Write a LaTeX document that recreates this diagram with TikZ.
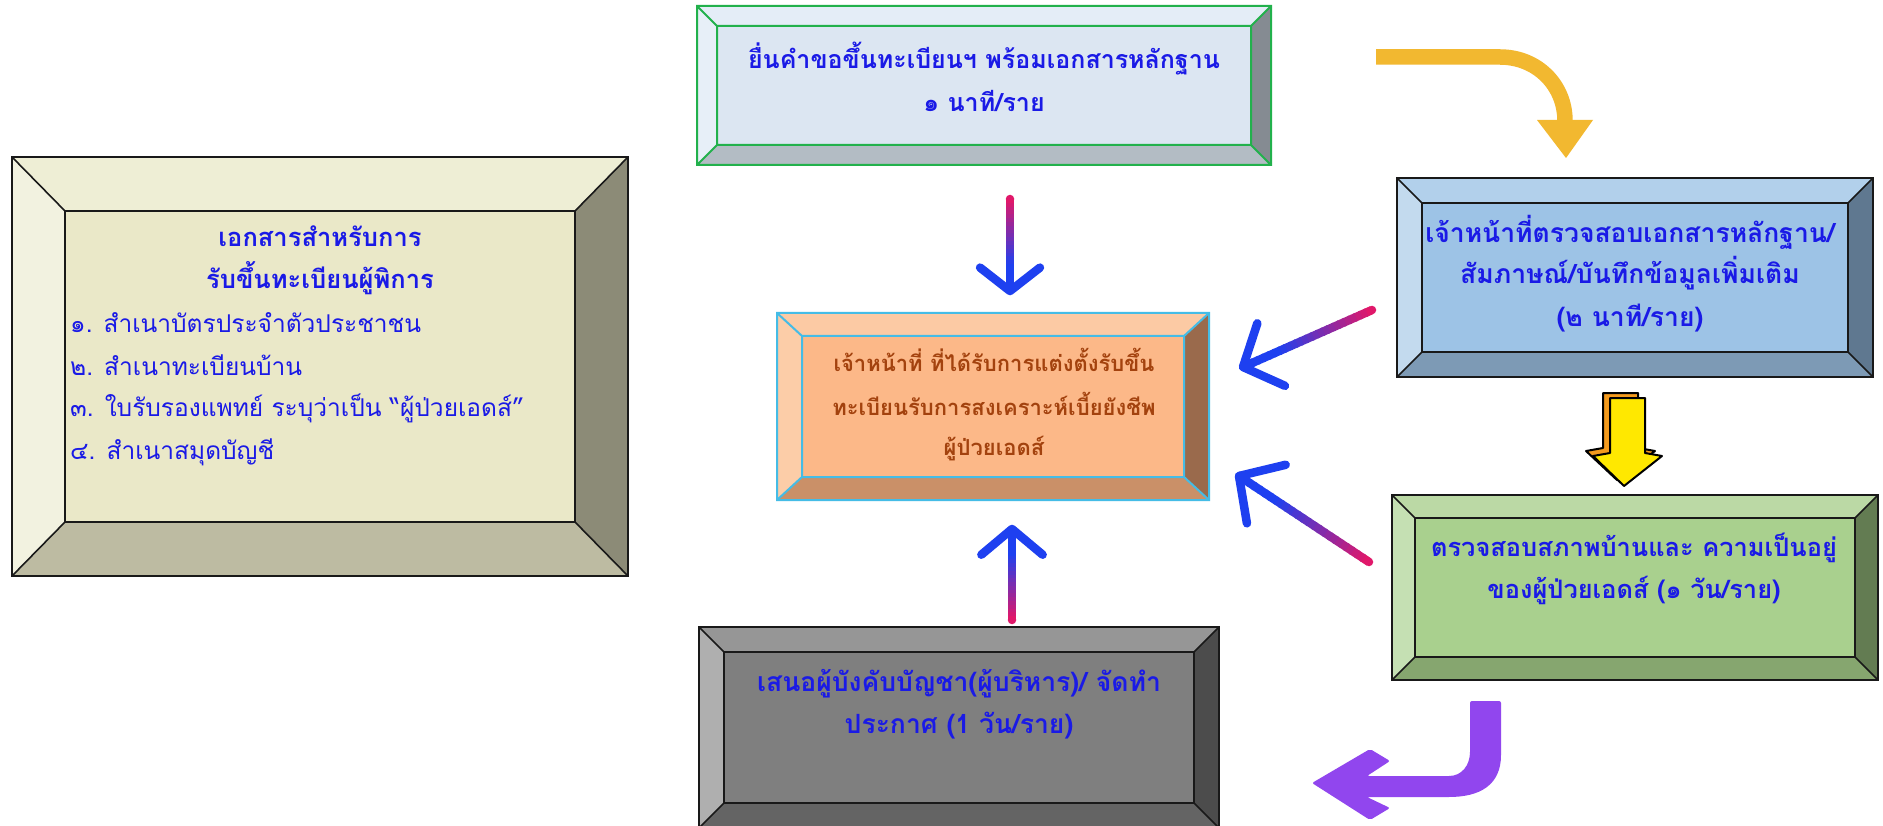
\documentclass[tikz,border=0pt]{standalone}
\usepackage{fontspec}
\newfontfamily\thai[Script=Thai]{Loma}
\usetikzlibrary{calc,fit}
% left box
\definecolor{lbt}{HTML}{EEEED5}\definecolor{lbl}{HTML}{F2F2E0}\definecolor{lbr}{HTML}{8C8B77}\definecolor{lbb}{HTML}{BDBBA2}\definecolor{lbi}{HTML}{EAE8C8}
% top box
\definecolor{tbt}{HTML}{E4EDF7}\definecolor{tbl}{HTML}{E7EFF8}\definecolor{tbr}{HTML}{858B92}\definecolor{tbb}{HTML}{B3BCC4}\definecolor{tbi}{HTML}{DCE6F2}
% centre box
\definecolor{cbt}{HTML}{FCCAA4}\definecolor{cbl}{HTML}{FCCDA8}\definecolor{cbr}{HTML}{9A6A4C}\definecolor{cbb}{HTML}{CA9068}\definecolor{cbi}{HTML}{FCB888}
% right top box
\definecolor{rbt}{HTML}{B2D0EB}\definecolor{rbl}{HTML}{C3DAEE}\definecolor{rbr}{HTML}{5F7890}\definecolor{rbb}{HTML}{7D9AB5}\definecolor{rbi}{HTML}{9DC3E6}
% green box
\definecolor{gbt}{HTML}{BBD9A5}\definecolor{gbl}{HTML}{C5E0B3}\definecolor{gbr}{HTML}{637C52}\definecolor{gbb}{HTML}{86A66F}\definecolor{gbi}{HTML}{A9D08E}
% grey box
\definecolor{kbt}{HTML}{969696}\definecolor{kbl}{HTML}{AFAFAF}\definecolor{kbr}{HTML}{4C4C4C}\definecolor{kbb}{HTML}{646464}\definecolor{kbi}{HTML}{7F7F7F}
\definecolor{txtblue}{HTML}{1A1AE6}
\definecolor{txtbrown}{HTML}{A3420E}
\definecolor{arrred}{HTML}{E0186A}
\definecolor{arrblue}{HTML}{1E40F0}
\definecolor{gold}{HTML}{F2B830}
\definecolor{violet2}{HTML}{9146EE}
\definecolor{cartyellow}{HTML}{FFE800}
\definecolor{cartorange}{HTML}{F39A1E}
\definecolor{bdgreenc}{HTML}{22B14C}
\definecolor{bdcyanc}{HTML}{45BCE6}

\tikzset{
  bdblack/.style={draw=black!90,line width=1.6pt},
  bdgreen/.style={draw=bdgreenc,line width=2pt},
  bdcyan/.style={draw=bdcyanc,line width=2pt},
  line/.style={inner sep=0pt,anchor=base},
  bluetxt/.style={line,text=txtblue,font=\thai\bfseries\fontsize{26}{26}\selectfont},
  browntxt/.style={line,text=txtbrown,font=\thai\bfseries\fontsize{22}{22}\selectfont},
  itemtxt/.style={inner sep=0pt,anchor=base west,text=txtblue,font=\thai\fontsize{24.5}{24.5}\selectfont},
  titletxt/.style={line,text=txtblue,font=\thai\bfseries\fontsize{25.5}{25.5}\selectfont},
}

\newcommand\bevelbox[9]{%
  \coordinate (#1-A) at (#2,#3);
  \coordinate (#1-B) at (#4,#3);
  \coordinate (#1-C) at (#4,#5);
  \coordinate (#1-D) at (#2,#5);
  \coordinate (#1-a) at (#2+#6,#3+#7);
  \coordinate (#1-b) at (#4-#6,#3+#7);
  \coordinate (#1-c) at (#4-#6,#5-#7);
  \coordinate (#1-d) at (#2+#6,#5-#7);
  \fill[#8t] (#1-A)--(#1-B)--(#1-b)--(#1-a)--cycle;
  \fill[#8r] (#1-B)--(#1-C)--(#1-c)--(#1-b)--cycle;
  \fill[#8b] (#1-C)--(#1-D)--(#1-d)--(#1-c)--cycle;
  \fill[#8l] (#1-D)--(#1-A)--(#1-a)--(#1-d)--cycle;
  \fill[#8i] (#1-a) rectangle (#1-c);
  \draw[#9] (#1-A) rectangle (#1-C) (#1-a) rectangle (#1-c)
     (#1-A)--(#1-a) (#1-B)--(#1-b) (#1-C)--(#1-c) (#1-D)--(#1-d);
  \node[fit=(#1-A)(#1-C),inner sep=0pt] (#1) {};
}

\newcommand\gradarrow[4]{%
  \fill[arrred] (#1) circle (4.25pt);
  \foreach \i in {0,...,23}{%
    \pgfmathsetmacro\ta{\i/24}%
    \pgfmathsetmacro\tb{(\i+1.3)/24}%
    \pgfmathtruncatemacro\pc{max(0,100-\i*100/17)}%
    \draw[line width=8.5pt,color=arrred!\pc!arrblue,line cap=butt]
      ($(#1)!\ta!(#2)$) -- ($(#1)!\tb!(#2)$);
  }
  \draw[line width=8.5pt,arrblue,line cap=round,line join=round]
    ($(#2)!#3!#4:(#1)$) -- (#2) -- ($(#2)!#3!-#4:(#1)$);
}

\begin{document}
\begin{tikzpicture}[x=1pt,y=-1pt]
\useasboundingbox (0,0) rectangle (1883,826);
\fill[white] (0,0) rectangle (1883,826);

% ---------- boxes ----------
\bevelbox{docs}{12}{157}{628}{576}{53}{54}{lb}{bdblack}
\bevelbox{submit}{697}{6}{1271}{165}{20}{20}{tb}{bdgreen}
\bevelbox{officer}{777}{313}{1209}{500}{25}{23}{cb}{bdcyan}
\bevelbox{check}{1397}{178}{1873}{377}{25}{25}{rb}{bdblack}
\bevelbox{visit}{1392}{495}{1878}{680}{23}{23}{gb}{bdblack}
\bevelbox{propose}{699}{627}{1219}{828}{25}{25}{kb}{bdblack}

% ---------- texts ----------
\node[titletxt] (l1a) at (320,247) {เอกสารสำหรับการ};
\node[titletxt] (l1b) at (320,289) {รับขึ้นทะเบียนผู้พิการ};
\node[itemtxt] (l2) at (70,333) {๑. สำเนาบัตรประจำตัวประชาชน};
\node[itemtxt] (l3) at (70,375) {๒. สำเนาทะเบียนบ้าน};
\node[itemtxt] (l4) at (70,417) {๓. ใบรับรองแพทย์ ระบุว่าเป็น “ผู้ป่วยเอดส์”};
\node[itemtxt] (l5) at (70,459) {๔. สำเนาสมุดบัญชี};

\node[bluetxt,font=\thai\bfseries\fontsize{25}{25}\selectfont] (s1) at (984,69) {ยื่นคำขอขึ้นทะเบียนฯ พร้อมเอกสารหลักฐาน};
\node[bluetxt,font=\thai\bfseries\fontsize{25}{25}\selectfont] (s2) at (984,112) {๑ นาที/ราย};

\node[browntxt] (o1) at (994,372) {เจ้าหน้าที่ ที่ได้รับการแต่งตั้งรับขึ้น};
\node[browntxt] (o2) at (994,415) {ทะเบียนรับการสงเคราะห์เบี้ยยังชีพ};
\node[browntxt] (o3) at (994,455) {ผู้ป่วยเอดส์};

\node[bluetxt,font=\thai\bfseries\fontsize{26.5}{26.5}\selectfont] (c1) at (1630,243) {เจ้าหน้าที่ตรวจสอบเอกสารหลักฐาน/};
\node[bluetxt,font=\thai\bfseries\fontsize{26.5}{26.5}\selectfont] (c2) at (1630,284) {สัมภาษณ์/บันทึกข้อมูลเพิ่มเติม};
\node[bluetxt,font=\thai\bfseries\fontsize{26.5}{26.5}\selectfont] (c3) at (1630,327) {(๒ นาที/ราย)};

\node[bluetxt,font=\thai\bfseries\fontsize{25.4}{25.4}\selectfont] (v1) at (1634,556) {ตรวจสอบสภาพบ้านและ ความเป็นอยู่};
\node[bluetxt,font=\thai\bfseries\fontsize{25.4}{25.4}\selectfont] (v2) at (1634,598) {ของผู้ป่วยเอดส์ (๑ วัน/ราย)};

\node[bluetxt,font=\thai\bfseries\fontsize{26.5}{26.5}\selectfont] (p1) at (959,691) {เสนอผู้บังคับบัญชา(ผู้บริหาร)/ จัดทำ};
\node[bluetxt,font=\thai\bfseries\fontsize{26.5}{26.5}\selectfont] (p2) at (959,733) {ประกาศ (1 วัน/ราย)};

% ---------- gradient arrows into the centre box ----------
\coordinate (a1s) at (1010,199);
\coordinate (a1e) at (1010,291);
\coordinate (a2s) at (1372,310);
\coordinate (a2e) at (1243,367);
\coordinate (a3s) at (1369,562);
\coordinate (a3e) at (1239,476);
\coordinate (a4s) at (1012,620);
\coordinate (a4e) at (1012,529);
\gradarrow{a1s}{a1e}{38pt}{52}
\gradarrow{a2s}{a2e}{46pt}{48}
\gradarrow{a3s}{a3e}{48pt}{47}
\gradarrow{a4s}{a4e}{40pt}{50}

% ---------- gold curved arrow ----------
\coordinate (g0) at (1376,57);
\coordinate (g1) at (1500,57);
\coordinate (g2) at (1565,121);
\coordinate (gL) at (1537,120);
\coordinate (gR) at (1593,120);
\coordinate (gT) at (1566,158);
\draw[gold,line width=15.5pt,line cap=butt] (g0) -- (g1) .. controls (1537,57) and (1565,85) .. (g2);
\fill[gold] (gL) -- (gR) -- (gT) -- cycle;

% ---------- cartoon down arrow ----------
\begin{scope}[shift={(-7,-5)}]
\draw[fill=cartorange,draw=black,line width=2pt,line join=round]
  (1610,398) -- (1645,398) -- (1645,453) -- (1662,456) -- (1624,485) -- (1593,456) -- (1610,453) -- cycle;
\end{scope}
\draw[fill=cartyellow,draw=black,line width=2pt,line join=round]
  (1610,398) -- (1645,398) -- (1645,453) -- (1662,456) -- (1624,486) -- (1593,456) -- (1610,453) -- cycle;

% ---------- violet curved arrow ----------
\fill[violet2,rounded corners=2pt]
  (1312,783) -- (1370,749) -- (1390,761) -- (1367,776) -- (1447,776)
  .. controls (1462,776) and (1470,765) .. (1470,750) -- (1470,701) -- (1501,701) -- (1501,753)
  .. controls (1501,785) and (1480,797) .. (1447,797) -- (1367,797) -- (1390,808) -- (1370,820) -- cycle;
\end{tikzpicture}
\end{document}
